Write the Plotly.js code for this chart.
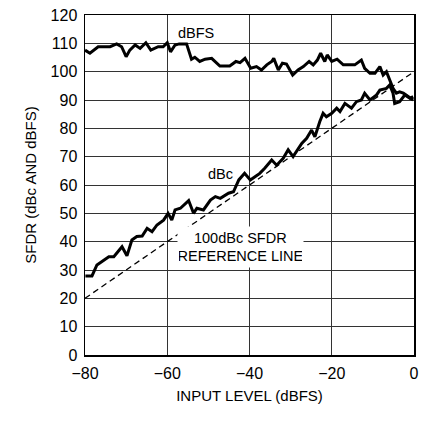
<!DOCTYPE html>
<html>
<head>
<meta charset="utf-8">
<script src="https://cdn.plot.ly/plotly-3.0.1.min.js"></script>
<style>html,body{margin:0;padding:0;background:#fff;}#chart{width:425px;height:424px;}</style>
</head>
<body>
<div id="chart"></div>
<script>
// dBFS curve
const dbfsX = [-80,-78.8,-76.8,-73.9,-72.3,-71.1,-70,-69.1,-67.8,-66.6,-65.2,-64,-62.2,-61,-60,-59.2,-58.1,-57.1,-55.3,-54.1,-53.3,-52.1,-50.8,-49.2,-47.2,-44.8,-43.3,-42.3,-41.1,-39.7,-38.3,-37.1,-35.8,-34.6,-34.1,-33,-32,-31,-29.5,-28.2,-26.9,-25.5,-24.5,-23.5,-22.7,-21.7,-21.1,-20,-18.7,-17.2,-15.6,-14.4,-12.8,-12,-10.7,-9.5,-8.3,-7.5,-6.7,-5.9,-5.1,-4.3,-3.5,-2.6,-1.4,-0.2];
const dbfsY = [107.6,106.5,108.8,108.8,109.8,108.8,105.3,107.6,109.4,108.2,110.2,107.6,108.8,108.8,110.2,107,109.4,109.8,109.8,104.4,105.1,103.6,104.4,104.7,102,102,103.6,103.2,104.7,101.2,101.8,100.6,102.4,103.6,104.7,100.6,103,102.7,98.8,100.6,101.8,103.6,102.4,104.1,106.5,103.6,105.9,103.6,104.4,102.4,102.4,102.4,104.1,101.2,99.4,99.4,101.8,98.8,100,97,94.1,92.4,92.9,92.4,91.2,90];
// dBc curve
const dbcX = [-79.9,-78.3,-77.1,-75.5,-74.2,-73,-71,-69.8,-68.6,-67.4,-66.1,-64.9,-63.7,-62.5,-60.9,-59.8,-58.9,-58.1,-56.8,-54.8,-53.6,-52.8,-51.2,-49.5,-48.3,-47.1,-45.1,-43.9,-42.6,-41.2,-39.8,-38.4,-37.5,-36.3,-34.6,-33.4,-31.8,-30.6,-29.4,-27.3,-26.1,-24.9,-24.1,-22.9,-22.1,-21.3,-20,-18.8,-18,-16.8,-15.2,-14,-12.8,-12,-10.7,-9.1,-8.3,-6.7,-5.9,-5.1,-4.7,-3.5,-2.2,-1,-0.2];
const dbcY = [27.9,27.9,31.8,33.5,34.7,34.7,38.2,35,40.6,41.8,42,44.7,43.5,45.9,47.6,50,47.6,51.2,51.8,54.5,50,51.8,51.2,54.7,55.9,55.3,57.1,57.6,61.8,64.1,61.8,63.2,64.1,65.9,68.8,67,69.4,72.4,70,74.7,76.5,79.4,77,82.4,85.3,84.1,85.3,87.1,85.9,88.8,87.1,89.4,90,92.4,90,91.8,93.5,94.1,95.3,92.4,88.8,89.4,91.8,90.6,91.2];
// 100dBc SFDR reference line
const refX = [-80, 0];
const refY = [20, 100];
const xTicks = [-80, -60, -40, -20, 0];
const yTicks = [0,10,20,30,40,50,60,70,80,90,100,110,120];

const FONT = '"Liberation Sans Narrow", "Liberation Sans", Arial, sans-serif';

const traces = [
  {x: refX, y: refY, mode: 'lines', line: {color: '#000', width: 1.3, dash: '6px,4px'}, hoverinfo: 'skip'},
  {x: dbfsX, y: dbfsY, mode: 'lines', line: {color: '#000', width: 3}},
  {x: dbcX, y: dbcY, mode: 'lines', line: {color: '#000', width: 3}}
];

const layout = {
  width: 425, height: 424,
  margin: {l: 85, r: 11, t: 15, b: 69},
  paper_bgcolor: '#fff', plot_bgcolor: '#fff',
  showlegend: false,
  font: {family: FONT, size: 16, color: '#000'},
  xaxis: {
    range: [-80, 0], tickvals: xTicks, ticks: '', showgrid: true, gridcolor: '#333', gridwidth: 1,
    zeroline: false, showline: true, linecolor: '#000', linewidth: 1.5, mirror: true,
    ticklabelstandoff: 3,
    title: {text: 'INPUT LEVEL (dBFS)', font: {size: 15}, standoff: 10},
    tickfont: {size: 16}
  },
  yaxis: {
    range: [0, 120], tickvals: yTicks, ticks: '', showgrid: true, gridcolor: '#333', gridwidth: 1,
    zeroline: false, showline: true, linecolor: '#000', linewidth: 1.5, mirror: true,
    ticklabelstandoff: 3,
    title: {text: 'SFDR (dBc AND dBFS)', font: {size: 15}, standoff: 10},
    tickfont: {size: 16}
  },
  annotations: [
    {x: -53.1, y: 113.8, text: 'dBFS', showarrow: false, font: {size: 14.5}},
    {x: -47, y: 63.9, text: 'dBc', showarrow: false, font: {size: 14.5}},
    {x: -42.2, y: 38.1, text: '100dBc SFDR<br>REFERENCE LINE', showarrow: false, bgcolor: '#fff',
     width: 123, height: 38, borderpad: 1, font: {size: 14.5}}
  ]
};

Plotly.newPlot('chart', traces, layout, {displayModeBar: false, staticPlot: true});
</script>
</body>
</html>
